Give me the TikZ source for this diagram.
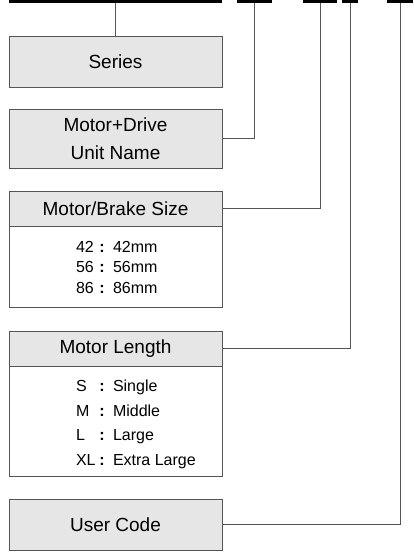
\documentclass[tikz,border=0pt]{standalone}
\usepackage{fontspec}
\setmainfont{Liberation Sans}
\usetikzlibrary{positioning}
\definecolor{boxgray}{HTML}{E6E6E6}
\definecolor{linegray}{HTML}{555555}

\begin{document}
\begin{tikzpicture}[x=1pt, y=-1pt,
  every node/.style={inner sep=0pt, outer sep=0pt},
  bar/.style={fill=black, minimum height=3pt},
  titlebox/.style={draw=linegray, fill=boxgray, line width=0.9pt, minimum width=213pt, align=center, font=\fontsize{19}{28}\selectfont},
  listbox/.style={draw=linegray, fill=white, line width=0.9pt, minimum width=213pt, anchor=north},
  item/.style={anchor=base west, font=\fontsize{16}{18}\selectfont},
  link/.style={draw=linegray, line width=0.9pt}]
\path[use as bounding box] (0,0) rectangle (413,552);
% code bars along the top
\node[bar, minimum width=213pt] (B1) at (115.5,1.5) {};
\node[bar, minimum width=35pt] (B2) at (254.5,1.5) {};
\node[bar, minimum width=34pt] (B3) at (320,1.5) {};
\node[bar, minimum width=16pt] (B4) at (350,1.5) {};
\node[bar, minimum width=26pt] (B5) at (400,1.5) {};
% boxes
\node[titlebox, minimum height=51pt] (series) at (115.5,61.5) {Series};
\node[titlebox, minimum height=59pt] (drive) at (115.5,138.5) {Motor+Drive\\Unit Name};
\node[titlebox, minimum height=35pt] (size) at (115.5,208.5) {Motor/Brake Size};
\node[listbox, minimum height=81pt] (sizelist) at (size.south) {};
\node[titlebox, minimum height=35pt] (length) at (115.5,348.5) {Motor Length};
\node[listbox, minimum height=110pt] (lengthlist) at (length.south) {};
\node[titlebox, minimum height=51pt] (code) at (115.5,524.5) {User Code};
% list entries
\foreach \k/\v [count=\i] in {42/42mm, 56/56mm, 86/86mm} {
  \node[item] (sk\i) at (76,231.5+20.5*\i) {\k};
  \node[item, anchor=base] (sc\i) at (102,231.5+20.5*\i) {\textbf{:}};
  \node[item] (sv\i) at (113,231.5+20.5*\i) {\v};
}
\foreach \k/\v [count=\i] in {S/Single, M/Middle, L/Large, XL/Extra Large} {
  \node[item] (lk\i) at (76,366.8+24.7*\i) {\k};
  \node[item, anchor=base] (lc\i) at (102,366.8+24.7*\i) {\textbf{:}};
  \node[item] (lv\i) at (113,366.8+24.7*\i) {\v};
}
% connectors
\draw[link] (series.north) -- (B1.south);
\draw[link] (drive.east) -| (B2.south);
\draw[link] (size.east) -| (B3.south);
\draw[link] (length.east) -| (B4.south);
\draw[link] (code.east) -| (B5.south);
\end{tikzpicture}
\end{document}
